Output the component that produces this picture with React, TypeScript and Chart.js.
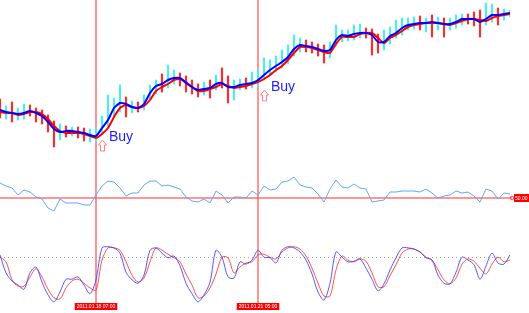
import React, { useEffect, useRef } from "react";
import { Chart, registerables } from "chart.js";
Chart.register(...registerables);

// ---- price bars (EURUSD-like) ----
const priceHigh = [
  1.3522, 1.3508, 1.3516, 1.3504, 1.3512, 1.351, 1.3504, 1.35, 1.349, 1.3478,
  1.3472, 1.3468, 1.3466, 1.3466, 1.3464, 1.3462, 1.3464, 1.3488, 1.353, 1.3524,
  1.355, 1.3526, 1.3518, 1.3516, 1.353, 1.355, 1.356, 1.3572, 1.359, 1.358,
  1.3574, 1.3568, 1.356, 1.3552, 1.3556, 1.356, 1.357, 1.3584, 1.3568, 1.356,
  1.3562, 1.3564, 1.3576, 1.358, 1.3604, 1.36, 1.3608, 1.362, 1.363, 1.365,
  1.3644, 1.364, 1.3636, 1.3632, 1.363, 1.3636, 1.367, 1.366, 1.366, 1.367,
  1.3672, 1.3664, 1.3662, 1.3652, 1.366, 1.3666, 1.368, 1.3684, 1.3684, 1.3686,
  1.3688, 1.3684, 1.369, 1.3686, 1.3684, 1.3684, 1.369, 1.3692, 1.3692, 1.3696,
  1.37, 1.3714, 1.3712, 1.3704, 1.3702, 1.37,
];
const priceLow = [
  1.3484, 1.3482, 1.3476, 1.348, 1.3482, 1.3488, 1.3476, 1.3472, 1.3456, 1.3426,
  1.344, 1.3446, 1.3448, 1.3444, 1.3438, 1.3436, 1.3438, 1.3454, 1.3468, 1.3488,
  1.3496, 1.3486, 1.3494, 1.3496, 1.35, 1.352, 1.3532, 1.3536, 1.3544, 1.3552,
  1.3548, 1.3536, 1.3532, 1.3526, 1.353, 1.3524, 1.354, 1.3544, 1.3514, 1.352,
  1.354, 1.3542, 1.3544, 1.3548, 1.356, 1.3568, 1.3576, 1.3584, 1.3592, 1.3608,
  1.3616, 1.3616, 1.3614, 1.3608, 1.3594, 1.3604, 1.3628, 1.3636, 1.3638, 1.364,
  1.3644, 1.3644, 1.361, 1.3614, 1.362, 1.3632, 1.3644, 1.365, 1.366, 1.3662,
  1.366, 1.3656, 1.3646, 1.366, 1.3646, 1.366, 1.3664, 1.367, 1.3672, 1.3668,
  1.3646, 1.367, 1.3676, 1.367, 1.368, 1.3686,
];
const priceClose = [
  1.3496, 1.35, 1.3488, 1.3496, 1.35, 1.3494, 1.349, 1.348, 1.3466, 1.3452,
  1.3462, 1.3456, 1.346, 1.3454, 1.3448, 1.3452, 1.3456, 1.3476, 1.3496, 1.3512,
  1.3518, 1.3502, 1.3508, 1.3502, 1.3524, 1.354, 1.3552, 1.3548, 1.3564, 1.3566,
  1.3556, 1.3548, 1.354, 1.3536, 1.3544, 1.354, 1.3556, 1.355, 1.3536, 1.3548,
  1.3552, 1.355, 1.3558, 1.3564, 1.3576, 1.3584, 1.3592, 1.3602, 1.3616, 1.3628,
  1.3632, 1.3626, 1.3624, 1.3618, 1.3612, 1.3628, 1.3646, 1.3648, 1.3652, 1.3654,
  1.3656, 1.3652, 1.3636, 1.3628, 1.3644, 1.3654, 1.366, 1.3668, 1.3672, 1.3674,
  1.367, 1.3676, 1.3668, 1.3672, 1.367, 1.3674, 1.368, 1.3684, 1.368, 1.3678,
  1.3672, 1.3686, 1.3692, 1.3688, 1.3694, 1.3694,
];
// ---- moving averages ----
const maFast = [
  1.35, 1.3496, 1.3494, 1.3492, 1.3494, 1.3498, 1.3494, 1.3488, 1.3476, 1.3462,
  1.3456, 1.3458, 1.3458, 1.3456, 1.3454, 1.345, 1.3448, 1.3464, 1.348, 1.3504,
  1.3514, 1.3512, 1.3506, 1.3504, 1.3512, 1.3534, 1.3548, 1.3552, 1.356, 1.3564,
  1.3564, 1.3554, 1.3546, 1.354, 1.3542, 1.3544, 1.3552, 1.3554, 1.3546, 1.3546,
  1.355, 1.3552, 1.3554, 1.356, 1.357, 1.358, 1.3588, 1.3596, 1.3606, 1.3622,
  1.363, 1.3628, 1.3626, 1.3622, 1.3618, 1.362, 1.364, 1.365, 1.3648, 1.3652,
  1.3654, 1.3654, 1.365, 1.3636, 1.3636, 1.3648, 1.3654, 1.3664, 1.367, 1.3672,
  1.3674, 1.3674, 1.3676, 1.3674, 1.3672, 1.3672, 1.3676, 1.3682, 1.3682, 1.3682,
  1.3676, 1.3682, 1.369, 1.369, 1.3692, 1.3694,
];
const maSlow = [
  1.3496, 1.3494, 1.3494, 1.349, 1.3492, 1.3496, 1.3496, 1.3492, 1.3482, 1.3468,
  1.3458, 1.3454, 1.3454, 1.3454, 1.3452, 1.3448, 1.3444, 1.3452, 1.3464, 1.3486,
  1.3504, 1.351, 1.3506, 1.3504, 1.3508, 1.352, 1.3538, 1.3546, 1.3552, 1.356,
  1.3562, 1.3556, 1.3546, 1.3538, 1.3538, 1.3542, 1.3546, 1.3552, 1.3548, 1.3544,
  1.3546, 1.3548, 1.3552, 1.3556, 1.3562, 1.357, 1.358, 1.3588, 1.36, 1.3614,
  1.3626, 1.3626, 1.3624, 1.362, 1.3616, 1.3614, 1.3632, 1.3646, 1.3646, 1.3646,
  1.3652, 1.3654, 1.3654, 1.3644, 1.3634, 1.3644, 1.365, 1.3658, 1.3666, 1.367,
  1.3672, 1.3674, 1.3674, 1.3674, 1.3672, 1.367, 1.3674, 1.3678, 1.3682, 1.3682,
  1.368, 1.3678, 1.3684, 1.3688, 1.369, 1.3692,
];
// ---- RSI ----
const rsi = [
  65, 62, 60, 53, 58, 56, 51, 49, 40, 37,
  49, 45, 45, 45, 43, 43, 53, 62, 67, 66,
  60, 52, 55, 55, 63, 67, 67, 62, 63, 61,
  59, 51, 47, 46, 49, 45, 57, 53, 45, 51,
  51, 50, 57, 53, 62, 58, 59, 66, 67, 71,
  63, 61, 60, 54, 46, 59, 68, 61, 60, 64,
  60, 59, 46, 47, 48, 56, 56, 57, 57, 57,
  56, 59, 55, 50, 52, 53, 57, 55, 56, 52,
  46, 59, 57, 49, 55, 54,
];
// ---- Stochastic ----
const stochK = [
  83, 52, 38, 31, 24, 52, 62, 36, 14, 2,
  19, 41, 41, 45, 31, 16, 40, 95, 97, 95,
  86, 53, 40, 34, 48, 91, 95, 86, 78, 81,
  64, 34, 16, 2, 14, 36, 91, 79, 45, 43,
  71, 67, 74, 91, 79, 78, 69, 91, 97, 95,
  88, 74, 50, 19, 5, 34, 88, 79, 71, 72,
  76, 60, 41, 21, 33, 57, 78, 95, 95, 93,
  88, 78, 74, 48, 34, 33, 53, 79, 74, 66,
  41, 64, 86, 69, 67, 83,
];
const stochD = [
  79, 71, 40, 29, 29, 45, 59, 45, 24, 9,
  7, 26, 38, 41, 34, 26, 22, 74, 95, 95,
  91, 71, 48, 36, 43, 71, 95, 91, 84, 78,
  71, 50, 31, 9, 12, 26, 50, 79, 78, 52,
  62, 69, 71, 83, 84, 79, 76, 88, 95, 97,
  93, 81, 60, 34, 12, 12, 57, 81, 74, 71,
  76, 72, 52, 28, 28, 47, 66, 86, 93, 93,
  88, 79, 74, 57, 40, 33, 43, 67, 76, 72,
  60, 50, 67, 79, 71, 74,
];
// ---- signals ----
const signalBars = [16, 43];
const signalDates = ["2011.01.18 07:00", "2011.01.21 05:00"];
const signalText = ["Buy", "Buy"];
const signalLabelPrice = [1.3446, 1.3546];
const rsiLevel = 50;
const rsiLevelText = "50.00";
const stochUpper = 80;

const UP = "#4aeeee";
const DOWN = "#ff2a2a";

export default function App() {
  const ref = useRef<HTMLCanvasElement>(null);
  useEffect(() => {
    document.body.style.margin = "0";
    const canvas = ref.current!;
    const labels = priceClose.map((_, i) => String(i));
    const barColors = priceClose.map((c, i) =>
      i > 0 && c >= priceClose[i - 1] ? UP : DOWN
    );

    const overlay = {
      id: "overlay",
      beforeDatasetsDraw(chart: any) {
        const ctx = chart.ctx;
        const xs = chart.scales.x;
        const ca = chart.chartArea;
        ctx.save();
        // vertical signal lines
        ctx.strokeStyle = "rgba(255,90,90,0.65)";
        ctx.lineWidth = 2;
        signalBars.forEach((b) => {
          const x = Math.round(xs.getPixelForValue(b));
          ctx.beginPath();
          ctx.moveTo(x, 0);
          ctx.lineTo(x, 303);
          ctx.stroke();
        });
        // RSI level
        const yr = chart.scales.yR.getPixelForValue(rsiLevel);
        ctx.strokeStyle = "rgba(255,80,80,0.8)";
        ctx.lineWidth = 1.5;
        ctx.beginPath();
        ctx.moveTo(ca.left, yr);
        ctx.lineTo(ca.right + 2, yr);
        ctx.stroke();
        // stoch upper dotted
        const ys = Math.round(chart.scales.yS.getPixelForValue(stochUpper)) + 0.5;
        ctx.strokeStyle = "#a8a8a8";
        ctx.lineWidth = 1;
        ctx.setLineDash([1, 3]);
        ctx.beginPath();
        ctx.moveTo(ca.left, ys);
        ctx.lineTo(ca.right, ys);
        ctx.stroke();
        ctx.restore();
      },
      afterDatasetsDraw(chart: any) {
        const ctx = chart.ctx;
        const xs = chart.scales.x;
        const yp = chart.scales.yP;
        const ca = chart.chartArea;
        ctx.save();
        signalBars.forEach((b, k) => {
          const x = Math.round(xs.getPixelForValue(b));
          const ym = yp.getPixelForValue(signalLabelPrice[k]);
          // text
          ctx.fillStyle = "#1c1cff";
          ctx.font = '14px "Liberation Sans", Arial, sans-serif';
          ctx.textBaseline = "middle";
          ctx.textAlign = "left";
          ctx.fillText(signalText[k], x + 13, ym);
          // up arrow (outlined)
          const cx = x + 6.5;
          const ty = ym + 3;
          ctx.strokeStyle = "#ff8080";
          ctx.lineWidth = 1;
          ctx.beginPath();
          ctx.moveTo(cx, ty);
          ctx.lineTo(cx + 4, ty + 5);
          ctx.lineTo(cx + 2, ty + 5);
          ctx.lineTo(cx + 2, ty + 11);
          ctx.lineTo(cx - 2, ty + 11);
          ctx.lineTo(cx - 2, ty + 5);
          ctx.lineTo(cx - 4, ty + 5);
          ctx.closePath();
          ctx.stroke();
          // date box
          ctx.font = '5px "Liberation Sans", Arial, sans-serif';
          const w = ctx.measureText(signalDates[k]).width + 4;
          ctx.fillStyle = "#ff0000";
          ctx.fillRect(x - w / 2, 303, w, 7);
          ctx.fillStyle = "#ffffff";
          ctx.textAlign = "center";
          ctx.fillText(signalDates[k], x, 306.8);
        });
        // RSI level tag
        const yr = chart.scales.yR.getPixelForValue(rsiLevel);
        ctx.strokeStyle = "#ff4040";
        ctx.lineWidth = 1;
        ctx.beginPath();
        ctx.arc(ca.right + 2, yr, 1.8, 0, Math.PI * 2);
        ctx.stroke();
        ctx.fillStyle = "#ff0000";
        ctx.fillRect(ca.right + 4, yr - 4, 15, 8);
        ctx.fillStyle = "#ffffff";
        ctx.font = '5px "Liberation Sans", Arial, sans-serif';
        ctx.textAlign = "left";
        ctx.textBaseline = "middle";
        ctx.fillText(rsiLevelText, ca.right + 5, yr + 0.5);
        ctx.restore();
      },
    };

    const chart = new Chart(canvas, {
      type: "line",
      data: {
        labels,
        datasets: [
          {
            type: "bar",
            data: priceHigh.map((h, i) => [priceLow[i], h]) as any,
            backgroundColor: barColors,
            borderWidth: 0,
            barThickness: 1.5,
            yAxisID: "yP",
            order: 10,
          } as any,
          {
            data: maSlow,
            borderColor: "#ff0000",
            borderWidth: 2,
            pointRadius: 0,
            tension: 0.2,
            yAxisID: "yP",
            order: 3,
          },
          {
            data: maFast,
            borderColor: "#0000ff",
            borderWidth: 2,
            pointRadius: 0,
            tension: 0.2,
            yAxisID: "yP",
            order: 2,
          },
          {
            data: rsi,
            borderColor: "#5fa9f7",
            borderWidth: 1,
            pointRadius: 0,
            tension: 0,
            yAxisID: "yR",
            order: 4,
          },
          {
            data: stochD,
            borderColor: "rgba(255,50,50,0.85)",
            borderWidth: 1,
            pointRadius: 0,
            tension: 0.3,
            yAxisID: "yS",
            order: 5,
          },
          {
            data: stochK,
            borderColor: "rgba(60,60,255,0.85)",
            borderWidth: 1,
            pointRadius: 0,
            tension: 0.3,
            yAxisID: "yS",
            order: 4,
          },
        ],
      },
      options: {
        responsive: false,
        animation: false,
        devicePixelRatio: 1,
        layout: { padding: { left: 0, right: 19, top: 0, bottom: 0 } },
        plugins: { legend: { display: false }, tooltip: { enabled: false } },
        scales: {
          x: { type: "category", display: false, offset: false },
          yP: { type: "linear", display: false, min: 1.3094, max: 1.372 },
          yR: { type: "linear", display: false, min: -65, max: 248 },
          yS: { type: "linear", display: false, min: -17.24, max: 522.41 },
        },
      },
      plugins: [overlay],
    } as any);
    return () => chart.destroy();
  }, []);
  return (
    <canvas
      ref={ref}
      width={529}
      height={313}
      style={{ display: "block", width: 529, height: 313, background: "#fff" }}
    />
  );
}
